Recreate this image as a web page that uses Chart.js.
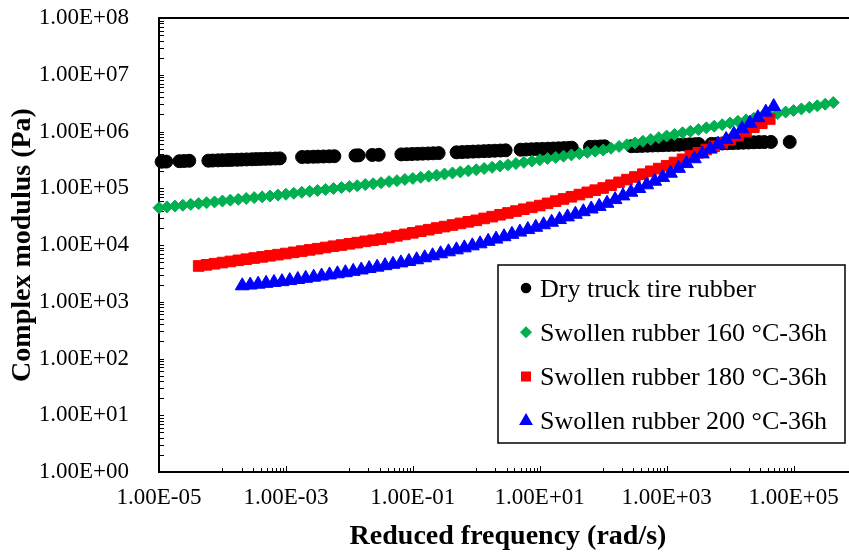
<!DOCTYPE html>
<html>
<head>
<meta charset="utf-8">
<title>Complex modulus master curves</title>
<script src="https://cdn.jsdelivr.net/npm/chart.js@4.4.1/dist/chart.umd.min.js"></script>
<style>
  html, body { margin: 0; padding: 0; background: #fff; overflow: hidden; }
  #wrap { width: 849px; height: 554px; overflow: hidden; }
</style>
</head>
<body>
<div id="wrap"><canvas id="modulusChart" width="866" height="554"></canvas></div>
<script>
const seriesLabels = [
  'Dry truck tire rubber',
  'Swollen rubber 160 °C-36h',
  'Swollen rubber 180 °C-36h',
  'Swollen rubber 200 °C-36h'
];

// dry rubber: shifted segments from several test temperatures (rad/s, Pa)
const dryFreq = [
  1.1e-5, 1.3e-5,
  2.1e-5, 2.5e-5, 3.0e-5,
  6e-5, 7e-5, 8.5e-5, 1e-4, 1.2e-4, 1.4e-4, 1.7e-4, 2e-4, 2.4e-4, 2.9e-4, 3.4e-4, 4e-4, 4.8e-4, 5.7e-4, 6.8e-4, 8e-4,
  1.8e-3, 2.2e-3, 2.7e-3, 3.2e-3, 3.9e-3, 4.8e-3, 5.8e-3,
  1.25e-2, 1.4e-2,
  2.3e-2, 2.9e-2,
  6.6e-2, 8e-2, 9.7e-2, 0.118, 0.143, 0.174, 0.21, 0.255,
  0.49, 0.6, 0.73, 0.89, 1.08, 1.32, 1.6, 1.95, 2.4, 2.9,
  5, 6.1, 7.4, 9, 11, 13.4, 16.3, 19.8, 24, 29, 32,
  62, 75, 90, 105,
  280, 340, 410, 500, 600, 730, 880, 1070, 1300, 1570, 1900, 2300, 2800, 3200,
  5100, 6200, 7500, 9100, 11000, 13300, 16100, 19500, 23600, 28600, 34600, 44000,
  87000
];
const dryModulus = [
  2.93e5, 2.95e5,
  3.00e5, 3.02e5, 3.05e5,
  3.06e5, 3.08e5, 3.10e5, 3.12e5, 3.14e5, 3.16e5, 3.18e5, 3.20e5, 3.22e5, 3.24e5, 3.26e5, 3.28e5, 3.30e5, 3.32e5, 3.34e5, 3.36e5,
  3.55e5, 3.57e5, 3.59e5, 3.61e5, 3.63e5, 3.65e5, 3.67e5,
  3.78e5, 3.80e5,
  3.86e5, 3.88e5,
  3.95e5, 3.98e5, 4.01e5, 4.04e5, 4.07e5, 4.10e5, 4.13e5, 4.16e5,
  4.30e5, 4.34e5, 4.38e5, 4.42e5, 4.46e5, 4.50e5, 4.54e5, 4.58e5, 4.62e5, 4.66e5,
  4.78e5, 4.82e5, 4.86e5, 4.90e5, 4.94e5, 4.98e5, 5.02e5, 5.06e5, 5.10e5, 5.14e5, 5.18e5,
  5.36e5, 5.40e5, 5.45e5, 5.48e5,
  5.50e5, 5.54e5, 5.58e5, 5.62e5, 5.66e5, 5.70e5, 5.74e5, 5.78e5, 5.82e5, 5.86e5, 5.90e5, 5.94e5, 5.98e5, 6.00e5,
  6.05e5, 6.10e5, 6.15e5, 6.20e5, 6.25e5, 6.30e5, 6.35e5, 6.40e5, 6.45e5, 6.50e5, 6.52e5, 6.55e5,
  6.55e5
];

// 8 points per decade, shared by the 160 and 180 °C curves
const sweepFreq = [
  1.00e-5, 1.33e-5, 1.78e-5, 2.37e-5, 3.16e-5, 4.22e-5, 5.62e-5, 7.50e-5,
  1.00e-4, 1.33e-4, 1.78e-4, 2.37e-4, 3.16e-4, 4.22e-4, 5.62e-4, 7.50e-4,
  1.00e-3, 1.33e-3, 1.78e-3, 2.37e-3, 3.16e-3, 4.22e-3, 5.62e-3, 7.50e-3,
  1.00e-2, 1.33e-2, 1.78e-2, 2.37e-2, 3.16e-2, 4.22e-2, 5.62e-2, 7.50e-2,
  0.100, 0.133, 0.178, 0.237, 0.316, 0.422, 0.562, 0.750,
  1.00, 1.33, 1.78, 2.37, 3.16, 4.22, 5.62, 7.50,
  10.0, 13.3, 17.8, 23.7, 31.6, 42.2, 56.2, 75.0,
  100, 133, 178, 237, 316, 422, 562, 750,
  1000, 1330, 1780, 2370, 3160, 4220, 5620, 7500,
  1.00e4, 1.33e4, 1.78e4, 2.37e4, 3.16e4, 4.22e4, 5.62e4, 7.50e4,
  1.00e5, 1.33e5, 1.78e5, 2.37e5, 3.16e5, 4.22e5
];

const modulus160 = [
  4.53e4, 4.69e4, 4.85e4, 5.02e4, 5.20e4, 5.37e4, 5.56e4, 5.75e4,
  5.96e4, 6.17e4, 6.38e4, 6.61e4, 6.84e4, 7.06e4, 7.31e4, 7.57e4,
  7.83e4, 8.15e4, 8.47e4, 8.81e4, 9.16e4, 9.53e4, 9.91e4, 1.03e5,
  1.07e5, 1.11e5, 1.16e5, 1.20e5, 1.25e5, 1.31e5, 1.36e5, 1.43e5,
  1.49e5, 1.56e5, 1.63e5, 1.70e5, 1.78e5, 1.86e5, 1.94e5, 2.03e5,
  2.12e5, 2.23e5, 2.34e5, 2.46e5, 2.59e5, 2.72e5, 2.86e5, 3.01e5,
  3.17e5, 3.33e5, 3.50e5, 3.68e5, 3.87e5, 4.07e5, 4.29e5, 4.50e5,
  4.73e5, 5.08e5, 5.45e5, 5.85e5, 6.28e5, 6.73e5, 7.23e5, 7.75e5,
  8.32e5, 8.89e5, 9.50e5, 1.01e6, 1.08e6, 1.16e6, 1.24e6, 1.32e6,
  1.41e6, 1.51e6, 1.60e6, 1.71e6, 1.82e6, 1.94e6, 2.07e6, 2.20e6,
  2.34e6, 2.50e6, 2.67e6, 2.84e6, 3.03e6, 3.24e6
];

// 180 °C sweep covers 4.22e-5 .. 4.22e4 rad/s of the same grid
const freq180 = sweepFreq.slice(5, 78);
const modulus180 = [
  4.27e3, 4.47e3, 4.68e3,
  4.90e3, 5.13e3, 5.37e3, 5.62e3, 5.89e3, 6.17e3, 6.46e3, 6.76e3,
  7.08e3, 7.43e3, 7.81e3, 8.20e3, 8.61e3, 9.04e3, 9.51e3, 9.98e3,
  1.05e4, 1.10e4, 1.16e4, 1.21e4, 1.27e4, 1.36e4, 1.45e4, 1.54e4,
  1.64e4, 1.75e4, 1.86e4, 1.99e4, 2.11e4, 2.25e4, 2.40e4, 2.56e4,
  2.72e4, 2.94e4, 3.16e4, 3.41e4, 3.67e4, 3.96e4, 4.27e4, 4.60e4,
  4.95e4, 5.42e4, 5.93e4, 6.47e4, 7.08e4, 7.74e4, 8.47e4, 9.25e4,
  1.01e5, 1.13e5, 1.27e5, 1.42e5, 1.58e5, 1.77e5, 1.99e5, 2.22e5,
  2.48e5, 2.84e5, 3.24e5, 3.70e5, 4.22e5, 4.82e5, 5.50e5, 6.28e5,
  7.16e5, 8.47e5, 1.00e6, 1.19e6, 1.40e6, 1.66e6
];

const freq200 = [
  2.05e-4, 2.74e-4, 3.65e-4, 4.87e-4, 6.49e-4, 8.66e-4, 1.15e-3, 1.54e-3,
  2.05e-3, 2.74e-3, 3.65e-3, 4.87e-3, 6.49e-3, 8.66e-3, 1.15e-2, 1.54e-2,
  2.05e-2, 2.74e-2, 3.65e-2, 4.87e-2, 6.49e-2, 8.66e-2, 0.115, 0.154,
  0.205, 0.274, 0.365, 0.487, 0.649, 0.866, 1.15, 1.54,
  2.05, 2.74, 3.65, 4.87, 6.49, 8.66, 11.5, 15.4,
  20.5, 27.4, 36.5, 48.7, 64.9, 86.6, 115, 154,
  205, 274, 365, 487, 649, 866, 1150, 1540,
  2050, 2740, 3650, 4870, 6490, 8660, 11500, 15400,
  20500, 27400, 36500, 48700
];
const modulus200 = [
  1.91e3, 1.97e3, 2.04e3, 2.11e3, 2.19e3, 2.26e3, 2.36e3, 2.47e3,
  2.59e3, 2.71e3, 2.84e3, 2.97e3, 3.11e3, 3.25e3, 3.43e3, 3.63e3,
  3.85e3, 4.07e3, 4.32e3, 4.57e3, 4.84e3, 5.13e3, 5.50e3, 5.96e3,
  6.46e3, 7.00e3, 7.59e3, 8.22e3, 8.91e3, 9.66e3, 1.05e4, 1.16e4,
  1.27e4, 1.40e4, 1.54e4, 1.69e4, 1.87e4, 2.05e4, 2.27e4, 2.52e4,
  2.81e4, 3.13e4, 3.48e4, 3.86e4, 4.31e4, 4.79e4, 5.43e4, 6.31e4,
  7.33e4, 8.51e4, 9.89e4, 1.15e5, 1.33e5, 1.55e5, 1.84e5, 2.24e5,
  2.72e5, 3.31e5, 4.03e5, 4.90e5, 5.96e5, 7.24e5, 8.93e5, 1.12e6,
  1.40e6, 1.75e6, 2.19e6, 2.75e6
];

const xTickValues = [1e-5, 1e-3, 1e-1, 1e1, 1e3, 1e5];
const xTickLabels = ['1.00E-05', '1.00E-03', '1.00E-01', '1.00E+01', '1.00E+03', '1.00E+05'];
const yTickValues = [1e0, 1e1, 1e2, 1e3, 1e4, 1e5, 1e6, 1e7, 1e8];
const yTickLabels = ['1.00E+00', '1.00E+01', '1.00E+02', '1.00E+03', '1.00E+04',
                     '1.00E+05', '1.00E+06', '1.00E+07', '1.00E+08'];

const SERIF = "'Liberation Serif', 'Times New Roman', serif";

const markers = [
  { color: '#000000', style: 'circle',   radius: 6.5, legendRadius: 4.5 },
  { color: '#00B050', style: 'rectRot',  radius: 6,   legendRadius: 5 },
  { color: '#FF0000', style: 'rect',     radius: 7.5, legendRadius: 6 },
  { color: '#0000FF', style: 'triangle', radius: 8,   legendRadius: 6.5 }
];

function toPoints(freq, modulus) {
  return freq.map((f, i) => ({ x: f, y: modulus[i] }));
}

const seriesData = [
  toPoints(dryFreq, dryModulus),
  toPoints(sweepFreq, modulus160),
  toPoints(freq180, modulus180),
  toPoints(freq200, modulus200)
];

// black frame plus short inward tick marks (x axis has a major every 2 decades)
const frameTicks = {
  id: 'frameTicks',
  beforeDatasetsDraw(chart) {
    const { ctx, chartArea: a, scales: { x, y } } = chart;
    ctx.save();
    ctx.strokeStyle = '#000';
    ctx.lineWidth = 1;
    ctx.beginPath();
    for (let e = 0; e < 8; e++) {
      for (let m = 1; m <= 9; m++) {
        const py = Math.round(y.getPixelForValue(m * Math.pow(10, e))) + 0.5;
        ctx.moveTo(a.left, py);
        ctx.lineTo(a.left + 5, py);
      }
    }
    xTickValues.forEach(v => {
      const px = Math.round(x.getPixelForValue(v)) + 0.5;
      ctx.moveTo(px, a.bottom);
      ctx.lineTo(px, a.bottom - 6);
      for (let m = 1; m <= 9; m++) {
        const mv = m * v * 10;
        if (mv > x.max) break;
        const mx = Math.round(x.getPixelForValue(mv)) + 0.5;
        ctx.moveTo(mx, a.bottom);
        ctx.lineTo(mx, a.bottom - 4);
      }
    });
    ctx.stroke();
    ctx.lineWidth = 2;
    ctx.strokeRect(a.left, a.top, a.right - a.left, a.bottom - a.top);
    ctx.restore();
  }
};

// boxed legend sitting inside the plot
const boxLegend = {
  id: 'boxLegend',
  afterDraw(chart, args, opts) {
    const ctx = chart.ctx;
    const { left, top, width, height, rowGap, firstBaseline, markerX, textX } = opts;
    ctx.save();
    ctx.fillStyle = '#fff';
    ctx.fillRect(left, top, width, height);
    ctx.strokeStyle = '#000';
    ctx.lineWidth = 1.5;
    ctx.strokeRect(left, top, width, height);
    ctx.font = '26px ' + SERIF;
    ctx.textBaseline = 'alphabetic';
    chart.data.datasets.forEach((ds, i) => {
      const base = top + firstBaseline + i * rowGap;
      const mk = markers[i];
      ctx.fillStyle = mk.color;
      ctx.strokeStyle = mk.color;
      Chart.helpers.drawPoint(ctx, {
        pointStyle: mk.style, radius: mk.legendRadius, rotation: 0, borderWidth: 1
      }, markerX, base - 8.5);
      ctx.fillStyle = '#000';
      ctx.fillText(ds.label, textX, base);
    });
    ctx.restore();
  }
};

new Chart(document.getElementById('modulusChart'), {
  type: 'scatter',
  data: {
    datasets: seriesData.map((pts, i) => ({
      label: seriesLabels[i],
      data: pts,
      order: 3 - i,
      clip: false,
      showLine: false,
      backgroundColor: markers[i].color,
      borderColor: markers[i].color,
      pointStyle: markers[i].style,
      pointRadius: markers[i].radius,
      pointHoverRadius: markers[i].radius,
      pointBorderWidth: 1
    }))
  },
  options: {
    responsive: false,
    animation: false,
    events: [],
    layout: { padding: { left: 0, top: 18, right: 3, bottom: 0 } },
    plugins: {
      legend: { display: false },
      tooltip: { enabled: false },
      boxLegend: {
        left: 498, top: 265, width: 347, height: 178,
        rowGap: 44.3, firstBaseline: 31.5, markerX: 526, textX: 540
      }
    },
    scales: {
      x: {
        type: 'logarithmic',
        min: 1e-5,
        max: 1e6,
        afterBuildTicks: s => { s.ticks = xTickValues.map(v => ({ value: v })); },
        afterFit: s => {
          s.height = 82;
          s.paddingLeft = 0;
          s.paddingRight = 0;
        },
        grid: { display: false },
        border: { display: false },
        ticks: {
          autoSkip: false,
          maxRotation: 0,
          padding: 4,
          color: '#000',
          font: { family: SERIF, size: 23 },
          callback: (v, i) => xTickLabels[i]
        },
        title: {
          display: true,
          text: 'Reduced frequency (rad/s)',
          color: '#000',
          font: { family: SERIF, size: 28, weight: 'bold' },
          padding: { top: 0, bottom: 0 }
        }
      },
      y: {
        type: 'logarithmic',
        min: 1,
        max: 1e8,
        afterBuildTicks: s => { s.ticks = yTickValues.map(v => ({ value: v })); },
        afterFit: s => {
          s.width = 159;
          s.paddingTop = 0;
          s.paddingBottom = 0;
        },
        grid: { display: false },
        border: { display: false },
        ticks: {
          autoSkip: false,
          padding: 22,
          color: '#000',
          font: { family: SERIF, size: 23 },
          callback: (v, i) => yTickLabels[i]
        },
        title: {
          display: true,
          text: 'Complex modulus (Pa)',
          color: '#000',
          font: { family: SERIF, size: 28, weight: 'bold' },
          padding: { top: 6, bottom: 0 }
        }
      }
    }
  },
  plugins: [frameTicks, boxLegend]
});
</script>
</body>
</html>
